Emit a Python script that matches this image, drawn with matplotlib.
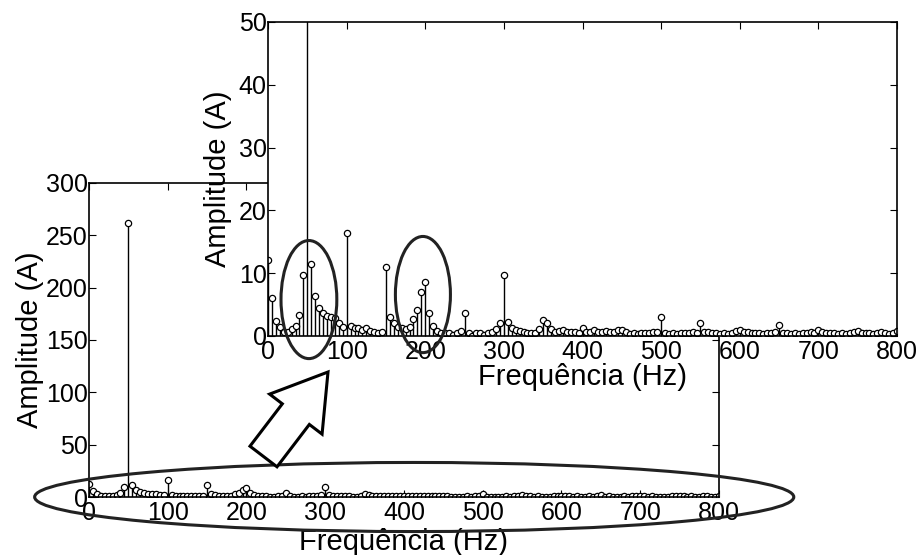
import matplotlib.pyplot as plt
import numpy as np
from matplotlib.patches import Ellipse, FancyArrow

plt.rcParams['font.family'] = ['Liberation Sans', 'DejaVu Sans']

# spectrum, 5 Hz bins from 0 to 800 Hz
freq = np.arange(0, 805, 5)
amp = [
    12.1, 6.1, 2.4, 1.4, 0.6, 0.6, 1.1, 1.6, 3.4, 9.7,      # 0-45
    262, 11.5, 6.3, 4.5, 3.7, 3.2, 3.0, 2.9, 2.0, 1.5,      # 50-95
    16.4, 1.6, 1.3, 1.2, 1.0, 1.2, 0.85, 0.6, 0.5, 0.6,     # 100-145
    11.0, 3.0, 2.1, 1.4, 1.3, 1.1, 1.4, 2.7, 4.1, 7.0,      # 150-195
    8.6, 3.7, 1.6, 0.8, 0.5, 0.5, 0.4, 0.2, 0.5, 0.8,       # 200-245
    3.6, 0.5, 0.05, 0.4, 0.5, 0.2, 0.5, 0.7, 1.1, 2.1,      # 250-295
    9.7, 2.2, 1.2, 0.9, 0.75, 0.6, 0.5, 0.4, 0.4, 1.1,      # 300-345
    2.6, 2.0, 1.1, 0.6, 0.85, 0.9, 0.6, 0.6, 0.6, 0.5,      # 350-395
    1.3, 0.7, 0.6, 0.9, 0.6, 0.7, 0.8, 0.6, 0.7, 1.0,       # 400-445
    1.0, 0.6, 0.3, 0.4, 0.3, 0.4, 0.5, 0.4, 0.6, 0.7,       # 450-495
    3.0, 0.4, 0.3, 0.4, 0.3, 0.4, 0.5, 0.4, 0.7, 0.5,       # 500-545
    2.0, 0.6, 0.7, 0.4, 0.5, 0.3, 0.4, 0.3, 0.5, 0.8,       # 550-595
    1.0, 0.7, 0.6, 0.4, 0.5, 0.4, 0.3, 0.5, 0.4, 0.6,       # 600-645
    1.7, 0.4, 0.5, 0.3, 0.4, 0.3, 0.5, 0.4, 0.6, 0.5,       # 650-695
    0.9, 0.6, 0.4, 0.5, 0.4, 0.3, 0.4, 0.3, 0.5, 0.6,       # 700-745
    0.85, 0.5, 0.4, 0.5, 0.3, 0.4, 0.6, 0.5, 0.3, 0.4,      # 750-795
    0.85,                                                   # 800
]

xticks = np.arange(0, 900, 100)
main_yticks = np.arange(0, 350, 50)
zoom_yticks = np.arange(0, 60, 10)

xlabel = 'Frequência (Hz)'
ylabel = 'Amplitude (A)'

tick_fs = 18
label_fs = 21


def stem_panel(ax, ymax, yticks):
    ''' Stem plot of the spectrum with MATLAB-like boxed axes '''
    markers, stems, base = ax.stem(freq, amp, linefmt='k-', markerfmt='ko', basefmt=' ')
    markers.set_markerfacecolor('white')
    markers.set_markeredgecolor('black')
    markers.set_markersize(4.5)
    markers.set_markeredgewidth(0.9)
    stems.set_linewidth(1.0)
    ax.set_xlim(0, 800)
    ax.set_ylim(0, ymax)
    ax.set_xticks(xticks)
    ax.set_yticks(yticks)
    ax.tick_params(direction='in', length=5, width=0.8, top=True, right=True,
                   labelsize=tick_fs, pad=3)
    ax.tick_params(axis='y', pad=1)
    for s in ax.spines.values():
        s.set_linewidth(1.2)
    ax.set_xlabel(xlabel, fontsize=label_fs, va='center')
    ax.set_ylabel(ylabel, fontsize=label_fs, va='center')
    ax.set_facecolor('white')


fig = plt.figure(figsize=(9.22, 5.55), dpi=100)

# full spectrum
ax = fig.add_axes([0.0965, 0.1045, 0.6833, 0.5658])
stem_panel(ax, 300, main_yticks)
ax.xaxis.set_label_coords(0.5, -0.142)
ax.yaxis.set_label_coords(-0.094, 0.5)

# zoomed spectrum on top
axz = fig.add_axes([0.2907, 0.3946, 0.6822, 0.5658])
stem_panel(axz, 50, zoom_yticks)
axz.xaxis.set_label_coords(0.5, -0.132)
axz.yaxis.set_label_coords(-0.08, 0.5)

ring = dict(fill=False, edgecolor='#222222', linewidth=2.2, clip_on=False, zorder=6)

# big ellipse around the low part of the full spectrum
ax.add_patch(Ellipse((413, 0), 964, 66, **ring))

# ellipses around the 50 Hz and 200 Hz groups
axz.add_patch(Ellipse((52, 5.8), 71, 18.8, **ring))
axz.add_patch(Ellipse((197, 6.6), 70, 18.5, **ring))

# block arrow pointing to the zoom (figure inches)
arrow = FancyArrow(2.635, 0.985, 0.645, 0.845, width=0.34, head_width=0.66,
                   head_length=0.53, length_includes_head=True,
                   transform=fig.dpi_scale_trans, facecolor='white',
                   edgecolor='black', linewidth=2.2, zorder=10)
fig.add_artist(arrow)

fig.savefig('out.png', dpi=100)
